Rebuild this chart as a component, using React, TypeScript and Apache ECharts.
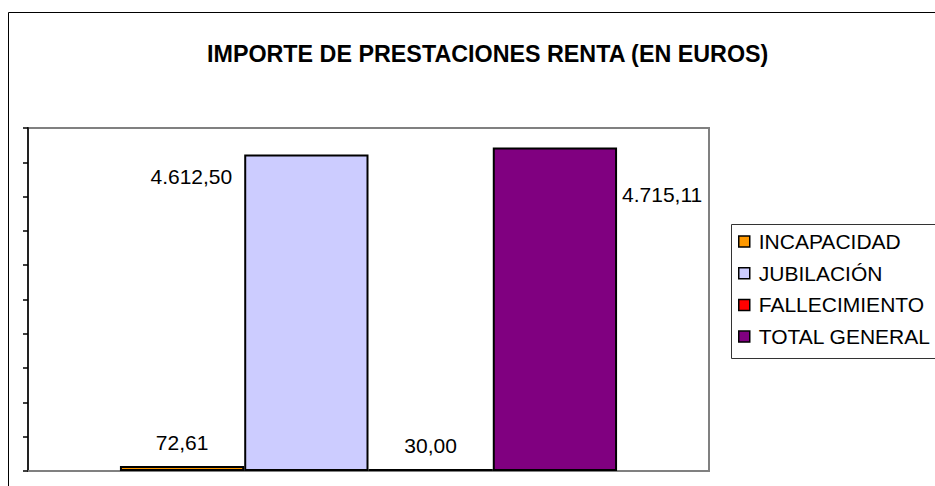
import React, { useEffect, useRef } from "react";
import * as echarts from "echarts";

const TITLE = "IMPORTE DE PRESTACIONES RENTA (EN EUROS)";
const categories = [""];
const seriesNames = ["INCAPACIDAD", "JUBILACIÓN", "FALLECIMIENTO", "TOTAL GENERAL"];
const seriesValues = [72.61, 4612.5, 30.0, 4715.11];
const seriesColors = ["#FF9900", "#CCCCFF", "#FF0000", "#800080"];
const yMin = 0;
const yMax = 5000;
const yInterval = 500;

const FONT = "'Liberation Sans', Arial, sans-serif";

function fmt(v: number): string {
  const [i, d] = v.toFixed(2).split(".");
  return i.replace(/\B(?=(\d{3})+(?!\d))/g, ".") + "," + d;
}

const labelStyles: any[] = [
  { position: "top", distance: 13 },
  { position: [0, 22], offset: [-12, 0], align: "right", verticalAlign: "middle" },
  { position: "top", distance: 13 },
  { position: ["100%", 47], offset: [5, 0], align: "left", verticalAlign: "middle" },
];

export default function App() {
  const ref = useRef<HTMLDivElement>(null);
  useEffect(() => {
    if (!ref.current) return;
    const chart = echarts.init(ref.current, undefined, { renderer: "svg" });
    const option: any = {
      animation: false,
      backgroundColor: "#ffffff",
      title: {
        text: TITLE,
        left: 207,
        top: 42,
        padding: 0,
        textStyle: { fontSize: 23.3, fontWeight: "bold", color: "#000", fontFamily: FONT },
      },
      grid: {
        left: 28,
        top: 128,
        right: 226,
        bottom: 15,
        show: true,
        borderColor: "#808080",
        borderWidth: 2,
        backgroundColor: "#ffffff",
      },
      legend: {
        orient: "vertical",
        left: 738,
        top: 231,
        padding: 0,
        itemWidth: 11,
        itemHeight: 11,
        itemGap: 10.7,
        icon: "rect",
        selectedMode: false,
        itemStyle: { borderColor: "#000", borderWidth: 1.5 },
        textStyle: { fontSize: 21, lineHeight: 20, color: "#000", fontFamily: FONT, padding: [0, 0, 0, 4] },
        data: seriesNames,
      },
      xAxis: {
        type: "category",
        data: categories,
        axisLine: { show: true, lineStyle: { color: "#808080", width: 2 } },
        axisTick: { show: false },
        axisLabel: { show: false },
        splitLine: { show: false },
      },
      yAxis: {
        type: "value",
        min: yMin,
        max: yMax,
        interval: yInterval,
        axisLine: { show: true, lineStyle: { color: "#222", width: 2 } },
        axisTick: { show: true, inside: false, length: 5, lineStyle: { color: "#000", width: 1.5 } },
        axisLabel: { show: false },
        splitLine: { show: false },
      },
      graphic: [
        {
          type: "rect",
          shape: { x: 8.5, y: 12.5, width: 2000, height: 2000 },
          style: { fill: "none", stroke: "#000", lineWidth: 1 },
          silent: true,
          z: 100,
        },
        {
          type: "rect",
          shape: { x: 731.5, y: 224.5, width: 400, height: 134 },
          style: { fill: "none", stroke: "#333", lineWidth: 1 },
          silent: true,
          z: 100,
        },
      ],
      series: seriesNames.map((name, i) => ({
        name,
        type: "bar",
        data: [seriesValues[i]],
        barGap: "0%",
        barCategoryGap: "27%",
        itemStyle: { color: seriesColors[i], borderColor: "#000", borderWidth: 2 },
        label: {
          show: true,
          color: "#000",
          fontSize: 21,
          fontFamily: FONT,
          formatter: (p: any) => fmt(p.value),
          ...labelStyles[i],
        },
      })),
    };
    chart.setOption(option);
    return () => chart.dispose();
  }, []);
  return (
    <div
      ref={ref}
      style={{ position: "absolute", left: 0, top: 0, width: 935, height: 486 }}
    />
  );
}
